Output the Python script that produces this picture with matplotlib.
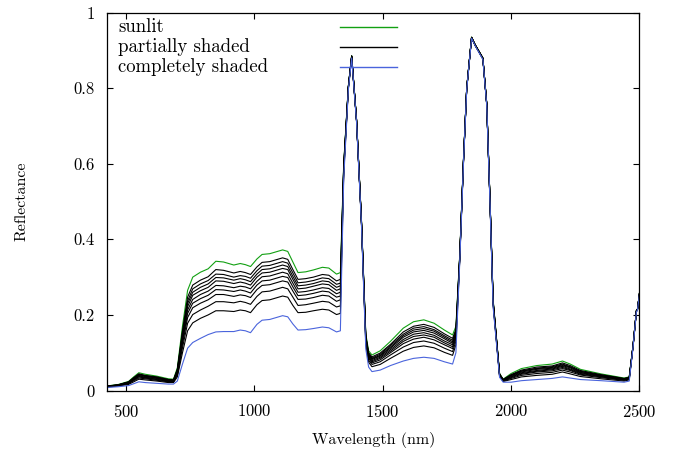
import matplotlib
matplotlib.use('Agg')
import matplotlib.pyplot as plt
from matplotlib.ticker import FuncFormatter

plt.rcParams['font.family'] = 'cmr10'
plt.rcParams['axes.formatter.use_mathtext'] = True
plt.rcParams['font.size'] = 13.5

# wavelength grid (nm)
wavelength = [426, 470, 510, 530, 550, 575, 620, 665, 685, 700,
              720, 740, 760, 790, 820, 850, 880, 920, 945, 965,
              985, 1010, 1030, 1060, 1090, 1110, 1130, 1150, 1170, 1200,
              1230, 1265, 1290, 1320, 1335, 1348, 1366, 1379, 1398, 1417,
              1434, 1445, 1458, 1490, 1530, 1580, 1620, 1660, 1700, 1740,
              1772, 1785, 1800, 1815, 1827, 1846, 1860, 1890, 1905, 1918,
              1930, 1955, 1969, 2000, 2040, 2100, 2160, 2200, 2230, 2270,
              2350, 2440, 2460, 2475, 2488, 2492, 2500]

sunlit = [0.012, 0.016, 0.024, 0.036, 0.047, 0.043, 0.038, 0.031, 0.030, 0.060,
          0.170, 0.265, 0.300, 0.313, 0.322, 0.342, 0.340, 0.332, 0.336, 0.333,
          0.328, 0.348, 0.360, 0.362, 0.368, 0.372, 0.368, 0.340, 0.312, 0.314,
          0.319, 0.326, 0.324, 0.308, 0.312, 0.600, 0.805, 0.886, 0.717, 0.452,
          0.150, 0.105, 0.094, 0.105, 0.130, 0.165, 0.182, 0.187, 0.178, 0.160,
          0.147, 0.170, 0.360, 0.620, 0.800, 0.935, 0.915, 0.880, 0.760, 0.500,
          0.240, 0.045, 0.030, 0.045, 0.058, 0.066, 0.070, 0.078, 0.070, 0.056,
          0.044, 0.033, 0.036, 0.120, 0.212, 0.215, 0.258]

shaded = [0.008, 0.010, 0.013, 0.018, 0.023, 0.021, 0.019, 0.017, 0.017, 0.025,
          0.070, 0.112, 0.127, 0.138, 0.148, 0.155, 0.156, 0.156, 0.160, 0.158,
          0.153, 0.175, 0.186, 0.188, 0.194, 0.198, 0.195, 0.176, 0.160, 0.161,
          0.164, 0.168, 0.166, 0.155, 0.158, 0.560, 0.795, 0.880, 0.710, 0.440,
          0.110, 0.062, 0.050, 0.054, 0.066, 0.078, 0.085, 0.088, 0.085, 0.076,
          0.070, 0.100, 0.340, 0.610, 0.795, 0.932, 0.912, 0.876, 0.755, 0.490,
          0.220, 0.035, 0.022, 0.022, 0.026, 0.029, 0.032, 0.036, 0.033, 0.029,
          0.026, 0.022, 0.025, 0.115, 0.208, 0.212, 0.255]

partial_1 = [0.012, 0.015, 0.023, 0.034, 0.044, 0.040, 0.036, 0.029, 0.028, 0.056,
             0.158, 0.247, 0.279, 0.292, 0.301, 0.320, 0.318, 0.311, 0.315, 0.312,
             0.307, 0.327, 0.339, 0.341, 0.347, 0.351, 0.347, 0.320, 0.294, 0.296,
             0.300, 0.307, 0.305, 0.290, 0.294, 0.595, 0.804, 0.885, 0.716, 0.451,
             0.145, 0.100, 0.089, 0.099, 0.122, 0.155, 0.170, 0.175, 0.167, 0.150,
             0.138, 0.162, 0.358, 0.619, 0.799, 0.935, 0.915, 0.880, 0.759, 0.499,
             0.238, 0.044, 0.029, 0.042, 0.054, 0.062, 0.065, 0.073, 0.066, 0.053,
             0.042, 0.032, 0.035, 0.119, 0.212, 0.215, 0.258]
partial_2 = [0.011, 0.015, 0.022, 0.033, 0.043, 0.039, 0.035, 0.029, 0.028, 0.054,
             0.152, 0.237, 0.269, 0.282, 0.291, 0.308, 0.307, 0.300, 0.304, 0.302,
             0.297, 0.317, 0.329, 0.331, 0.337, 0.341, 0.337, 0.311, 0.285, 0.287,
             0.291, 0.298, 0.296, 0.281, 0.284, 0.593, 0.803, 0.885, 0.716, 0.450,
             0.143, 0.097, 0.086, 0.096, 0.119, 0.149, 0.165, 0.169, 0.161, 0.145,
             0.133, 0.157, 0.356, 0.618, 0.799, 0.934, 0.914, 0.879, 0.759, 0.498,
             0.236, 0.043, 0.029, 0.041, 0.052, 0.059, 0.063, 0.070, 0.063, 0.051,
             0.041, 0.031, 0.034, 0.119, 0.211, 0.214, 0.257]
partial_3 = [0.011, 0.015, 0.022, 0.032, 0.042, 0.038, 0.034, 0.028, 0.027, 0.052,
             0.147, 0.230, 0.260, 0.273, 0.282, 0.299, 0.298, 0.292, 0.296, 0.293,
             0.288, 0.308, 0.320, 0.322, 0.328, 0.332, 0.328, 0.302, 0.277, 0.279,
             0.283, 0.290, 0.288, 0.273, 0.277, 0.591, 0.803, 0.885, 0.715, 0.449,
             0.141, 0.095, 0.084, 0.093, 0.115, 0.145, 0.160, 0.164, 0.157, 0.141,
             0.129, 0.154, 0.355, 0.618, 0.799, 0.934, 0.914, 0.879, 0.759, 0.498,
             0.235, 0.043, 0.028, 0.040, 0.051, 0.058, 0.061, 0.068, 0.062, 0.050,
             0.040, 0.030, 0.033, 0.119, 0.211, 0.214, 0.257]
partial_4 = [0.011, 0.014, 0.021, 0.031, 0.040, 0.037, 0.033, 0.027, 0.026, 0.050,
             0.142, 0.222, 0.252, 0.264, 0.273, 0.290, 0.289, 0.283, 0.287, 0.284,
             0.279, 0.300, 0.311, 0.313, 0.319, 0.323, 0.320, 0.294, 0.269, 0.271,
             0.276, 0.282, 0.280, 0.265, 0.269, 0.589, 0.802, 0.884, 0.715, 0.449,
             0.139, 0.093, 0.082, 0.091, 0.112, 0.141, 0.155, 0.159, 0.152, 0.137,
             0.125, 0.150, 0.354, 0.617, 0.799, 0.934, 0.914, 0.879, 0.759, 0.497,
             0.234, 0.042, 0.028, 0.039, 0.049, 0.056, 0.059, 0.066, 0.060, 0.048,
             0.039, 0.030, 0.033, 0.119, 0.211, 0.214, 0.257]
partial_5 = [0.011, 0.014, 0.020, 0.030, 0.039, 0.035, 0.032, 0.026, 0.026, 0.048,
             0.136, 0.213, 0.241, 0.254, 0.263, 0.278, 0.277, 0.272, 0.276, 0.274,
             0.269, 0.289, 0.301, 0.303, 0.309, 0.313, 0.309, 0.284, 0.260, 0.262,
             0.266, 0.272, 0.270, 0.256, 0.260, 0.586, 0.802, 0.884, 0.715, 0.448,
             0.136, 0.090, 0.079, 0.088, 0.108, 0.135, 0.149, 0.153, 0.146, 0.131,
             0.121, 0.146, 0.353, 0.617, 0.798, 0.934, 0.914, 0.879, 0.758, 0.497,
             0.233, 0.042, 0.027, 0.037, 0.047, 0.053, 0.057, 0.064, 0.057, 0.047,
             0.038, 0.029, 0.032, 0.118, 0.211, 0.214, 0.257]
partial_6 = [0.010, 0.014, 0.020, 0.029, 0.037, 0.034, 0.030, 0.025, 0.025, 0.046,
             0.130, 0.204, 0.231, 0.243, 0.252, 0.267, 0.266, 0.262, 0.266, 0.263,
             0.258, 0.279, 0.290, 0.292, 0.298, 0.302, 0.299, 0.274, 0.251, 0.253,
             0.257, 0.263, 0.261, 0.247, 0.250, 0.584, 0.801, 0.884, 0.714, 0.447,
             0.134, 0.088, 0.076, 0.085, 0.104, 0.130, 0.143, 0.147, 0.141, 0.126,
             0.116, 0.142, 0.352, 0.616, 0.798, 0.934, 0.914, 0.878, 0.758, 0.496,
             0.232, 0.041, 0.027, 0.036, 0.045, 0.051, 0.055, 0.061, 0.055, 0.045,
             0.037, 0.029, 0.032, 0.118, 0.210, 0.214, 0.257]
partial_7 = [0.010, 0.013, 0.019, 0.028, 0.036, 0.033, 0.029, 0.024, 0.024, 0.044,
             0.123, 0.193, 0.219, 0.231, 0.240, 0.254, 0.254, 0.249, 0.253, 0.251,
             0.246, 0.267, 0.278, 0.280, 0.286, 0.290, 0.287, 0.263, 0.241, 0.242,
             0.246, 0.252, 0.250, 0.236, 0.240, 0.581, 0.800, 0.883, 0.714, 0.446,
             0.131, 0.085, 0.073, 0.081, 0.100, 0.124, 0.136, 0.141, 0.134, 0.121,
             0.111, 0.137, 0.351, 0.615, 0.798, 0.934, 0.914, 0.878, 0.758, 0.495,
             0.231, 0.040, 0.026, 0.034, 0.043, 0.049, 0.052, 0.058, 0.053, 0.043,
             0.036, 0.028, 0.031, 0.118, 0.210, 0.214, 0.257]
partial_8 = [0.010, 0.013, 0.018, 0.026, 0.033, 0.031, 0.027, 0.023, 0.023, 0.040,
             0.113, 0.178, 0.201, 0.213, 0.223, 0.235, 0.235, 0.232, 0.236, 0.233,
             0.228, 0.249, 0.261, 0.263, 0.269, 0.273, 0.269, 0.247, 0.225, 0.227,
             0.231, 0.236, 0.234, 0.221, 0.224, 0.577, 0.799, 0.883, 0.713, 0.445,
             0.127, 0.080, 0.069, 0.076, 0.094, 0.115, 0.127, 0.131, 0.125, 0.112,
             0.103, 0.130, 0.349, 0.614, 0.797, 0.933, 0.913, 0.878, 0.757, 0.494,
             0.229, 0.039, 0.025, 0.032, 0.040, 0.045, 0.048, 0.054, 0.049, 0.041,
             0.034, 0.027, 0.030, 0.117, 0.210, 0.213, 0.256]
partial_9 = [0.009, 0.012, 0.016, 0.023, 0.030, 0.028, 0.025, 0.021, 0.021, 0.036,
             0.100, 0.158, 0.179, 0.191, 0.200, 0.211, 0.211, 0.209, 0.213, 0.211,
             0.206, 0.227, 0.238, 0.240, 0.246, 0.250, 0.247, 0.225, 0.206, 0.207,
             0.211, 0.215, 0.213, 0.201, 0.204, 0.572, 0.798, 0.882, 0.712, 0.444,
             0.122, 0.075, 0.063, 0.069, 0.085, 0.104, 0.114, 0.118, 0.113, 0.101,
             0.093, 0.121, 0.346, 0.613, 0.797, 0.933, 0.913, 0.877, 0.757, 0.493,
             0.226, 0.038, 0.024, 0.029, 0.036, 0.040, 0.043, 0.049, 0.044, 0.037,
             0.031, 0.025, 0.028, 0.117, 0.209, 0.213, 0.256]

partial = [partial_1, partial_2, partial_3, partial_4, partial_5,
           partial_6, partial_7, partial_8, partial_9]

labels = ['sunlit', 'partially shaded', 'completely shaded']
green = '#12a012'
blue = '#4a64dc'

fig = plt.figure(figsize=(6.88, 4.57), dpi=100)
ax = fig.add_axes([0.1555, 0.1455, 0.774, 0.827])

ax.plot(wavelength, sunlit, color=green, lw=0.8)
for p in partial:
    ax.plot(wavelength, p, color='k', lw=0.8)
ax.plot(wavelength, shaded, color=blue, lw=0.8)

ax.set_xlim(426, 2500)
ax.set_ylim(0, 1)
ax.set_xticks([500, 1000, 1500, 2000, 2500])
ax.set_yticks([0, 0.2, 0.4, 0.6, 0.8, 1])
ax.yaxis.set_major_formatter(FuncFormatter(lambda v, _: '%g' % v))
ax.tick_params(direction='in', top=True, right=True, length=4, width=0.8,
               pad=9, labelsize=12)
for s in ax.spines.values():
    s.set_linewidth(0.9)

ax.set_xlabel('Wavelength (nm)', fontsize=11.5)
ax.xaxis.set_label_coords(0.5, -0.131)
ax.xaxis.label.set_verticalalignment('center')
ax.set_ylabel('Reflectance', fontsize=11.5)
ax.yaxis.set_label_coords(-0.161, 0.5)
ax.yaxis.label.set_verticalalignment('center')

# gnuplot-style key: text on the left, sample line on the right
for i, (lab, c) in enumerate(zip(labels, [green, 'k', blue])):
    y = 0.9616 - i * 0.0529
    ax.text(0.021, y, lab, transform=ax.transAxes, va='center', ha='left')
    ax.plot([0.4376, 0.5446], [y, y], transform=ax.transAxes, color=c, lw=1.0)

fig.savefig('out.png', dpi=100)
